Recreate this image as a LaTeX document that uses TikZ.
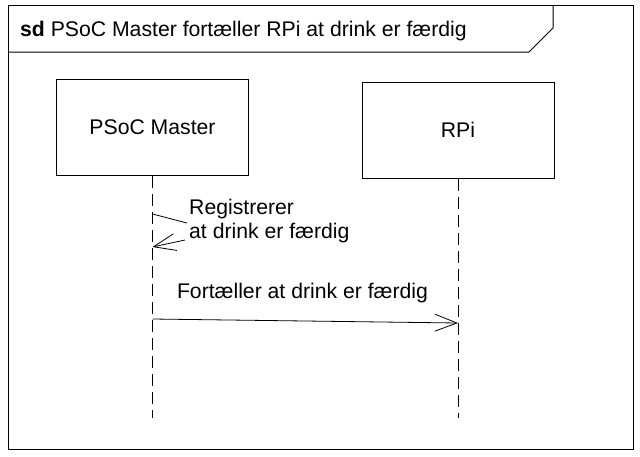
\documentclass[tikz,border=0pt]{standalone}
\usepackage{fontspec}
\setmainfont{Liberation Sans}
\usetikzlibrary{arrows.meta}

\tikzset{
	lifebox/.style={draw, line width=1pt, minimum width=192pt, minimum height=96pt, inner sep=0pt},
	lifeline/.style={line width=1pt, dash pattern=on 12pt off 6pt},
	msg/.style={line width=0.8pt, -{Straight Barb[length=22pt,width=17pt,line width=0.8pt]}},
	msgtext/.style={inner sep=0pt, font=\fontsize{21.2}{24}\selectfont}
}

\begin{document}
\begin{tikzpicture}[x=1pt,y=-1pt]
		\useasboundingbox (0,0) rectangle (640,456);
		\draw[line width=1pt] (8,5) rectangle (633,449);
		\draw[line width=1pt] (8,52) -- (529,52) -- (553,28) -- (553,5);
		\node[msgtext, anchor=base west] (title) at (20,36) {\textbf{sd} PSoC Master fortæller RPi at drink er færdig};
		\node[lifebox, msgtext] (psoc) at (152.5,127.5) {PSoC Master};
		\node[lifebox, msgtext] (rpi) at (458,130) {RPi};
		\coordinate (psocend) at (152.5,418);
		\coordinate (rpiend) at (458,418);
		\draw[lifeline] (psoc.south) -- (psocend);
		\draw[lifeline] (rpi.south) -- (rpiend);
		% self message
		\coordinate (s1) at (152.5,214);
		\coordinate (s2) at (187,223);
		\coordinate (s3) at (185,240);
		\coordinate (s4) at (152.5,247);
		\draw[line width=0.8pt] (s1) -- (s2);
		\draw[msg] (s3) -- (s4);
		\node[msgtext, anchor=base west, align=left] (reg) at (189,238) {Registrerer\\at drink er færdig};
		% message to RPi
		\coordinate (m1) at (152.5,319);
		\coordinate (m2) at (458,323);
		\draw[msg] (m1) -- (m2);
		\node[msgtext, anchor=base] (tell) at (302.5,298) {Fortæller at drink er færdig};
	\end{tikzpicture}
\end{document}
